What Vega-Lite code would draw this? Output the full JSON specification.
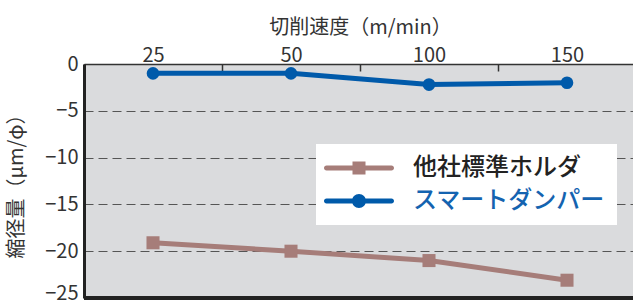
{
  "$schema": "https://vega.github.io/schema/vega-lite/v6.json",
  "width": 552,
  "height": 234,
  "autosize": {"type": "none"},
  "padding": {"left": 84, "top": 64, "right": 0, "bottom": 7},
  "background": "white",
  "config": {
    "font": "Noto Sans CJK JP",
    "view": {"stroke": null, "fill": "#dadbdd"}
  },
  "data": {
    "values": [
      {"speed": 25, "series": "他社標準ホルダ", "value": -19.1},
      {"speed": 50, "series": "他社標準ホルダ", "value": -20.0},
      {"speed": 100, "series": "他社標準ホルダ", "value": -21.0},
      {"speed": 150, "series": "他社標準ホルダ", "value": -23.1},
      {"speed": 25, "series": "スマートダンパー", "value": -1.0},
      {"speed": 50, "series": "スマートダンパー", "value": -1.0},
      {"speed": 100, "series": "スマートダンパー", "value": -2.2},
      {"speed": 150, "series": "スマートダンパー", "value": -2.0}
    ]
  },
  "encoding": {
    "x": {
      "field": "speed",
      "type": "ordinal",
      "scale": {"type": "band", "paddingInner": 0, "paddingOuter": 0},
      "axis": {
        "orient": "top",
        "title": "切削速度（m/min）",
        "titleFontSize": 20,
        "titleFontWeight": "normal",
        "titleColor": "#333",
        "titlePadding": 8,
        "labelFontSize": 20,
        "labelColor": "#333",
        "labelAngle": 0,
        "labelPadding": 6,
        "ticks": true,
        "tickBand": "extent",
        "tickSize": -7,
        "tickColor": "#333",
        "tickWidth": 1.5,
        "domainColor": "#333",
        "domainWidth": 1.5,
        "grid": false
      }
    },
    "y": {
      "field": "value",
      "type": "quantitative",
      "scale": {"domain": [-25, 0], "nice": false, "zero": false},
      "axis": {
        "values": [0, -5, -10, -15, -20, -25],
        "title": "縮径量（μm/φ）",
        "titleFontSize": 20,
        "titleFontWeight": "normal",
        "titleColor": "#333",
        "titlePadding": 18,
        "labelFontSize": 20,
        "labelColor": "#333",
        "labelPadding": 6,
        "labelOffset": {"condition": {"test": "datum.value === -25", "value": -5}, "value": 0},
        "ticks": false,
        "domainColor": "#222",
        "domainWidth": 3,
        "grid": true,
        "gridColor": "#555",
        "gridDash": [9, 5],
        "gridWidth": 1
      }
    }
  },
  "layer": [
    {
      "mark": {"type": "line", "strokeWidth": 5},
      "encoding": {
        "color": {
          "field": "series",
          "type": "nominal",
          "scale": {"domain": ["他社標準ホルダ", "スマートダンパー"], "range": ["#a67d79", "#005aaa"]},
          "legend": {
            "title": null,
            "orient": "none",
            "legendX": 232,
            "legendY": 80,
            "fillColor": "white",
            "padding": 12,
            "labelFontSize": 24,
            "labelFontWeight": 500,
            "labelLimit": 400,
            "symbolSize": 100,
            "symbolOffset": 19,
            "labelOffset": 42,
            "rowPadding": 9,
            "encode": {
              "symbols": {
                "update": {
                  "shape": {"signal": "datum.value === '他社標準ホルダ' ? 'M-6.5,-0.5H6.5A0.5,0.5 0 0,1 6.5,0.5H-6.5A0.5,0.5 0 0,1 -6.5,-0.5Z M-1.3,-1.3H1.3V1.3H-1.3Z' : 'M-6.5,-0.5H6.5A0.5,0.5 0 0,1 6.5,0.5H-6.5A0.5,0.5 0 0,1 -6.5,-0.5Z M-1.4,0A1.4,1.4 0 1,1 1.4,0A1.4,1.4 0 1,1 -1.4,0Z'"},
                  "fill": {"signal": "datum.value === '他社標準ホルダ' ? '#a67d79' : '#005aaa'"},
                  "fillOpacity": {"value": 1},
                  "strokeWidth": {"value": 0}
                }
              },
              "labels": {
                "update": {
                  "fill": {"signal": "datum.value === '他社標準ホルダ' ? '#222' : '#1463b0'"}
                }
              }
            }
          }
        }
      }
    },
    {
      "transform": [{"filter": "datum.series === '他社標準ホルダ'"}],
      "mark": {"type": "point", "filled": true, "opacity": 1, "shape": "square", "size": 170, "color": "#a67d79"},
      "encoding": {}
    },
    {
      "transform": [{"filter": "datum.series === 'スマートダンパー'"}],
      "mark": {"type": "point", "filled": true, "opacity": 1, "shape": "circle", "size": 160, "color": "#005aaa"},
      "encoding": {}
    },
    {
      "mark": {"type": "rule", "color": "#222", "strokeWidth": 3},
      "encoding": {"y": {"datum": -25}, "x": null}
    }
  ]
}
